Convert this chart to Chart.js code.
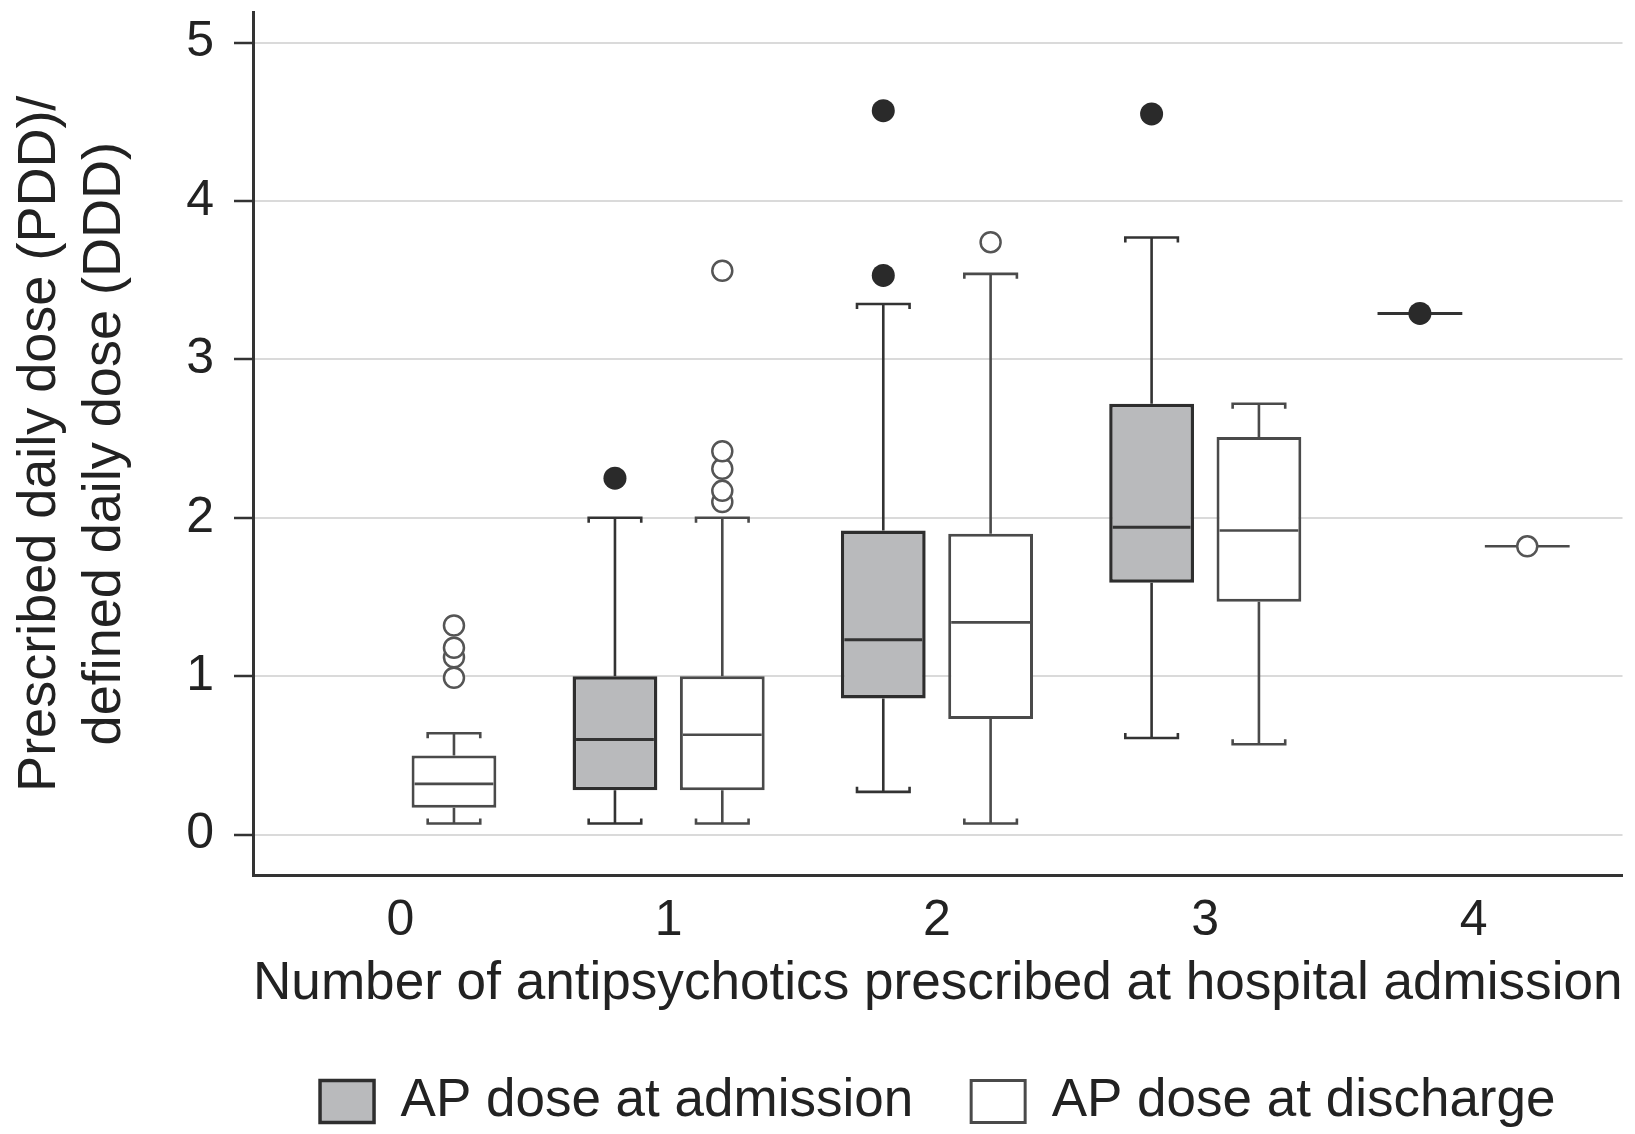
<!DOCTYPE html>
<html>
<head>
<meta charset="utf-8">
<title>AP dose by number of antipsychotics</title>
<script src="https://cdn.jsdelivr.net/npm/chart.js@4.4.1/dist/chart.umd.min.js"></script>
<style>
  html, body { margin: 0; padding: 0; background: #fff; }
  #wrap { width: 1635px; height: 1134px; }
</style>
</head>
<body>
<div id="wrap"><canvas id="doseChart"></canvas></div>
<script>
// number of antipsychotics at admission
const groups = [0, 1, 2, 3, 4];
const yTicks = [0, 1, 2, 3, 4, 5];

// PDD/DDD at admission (no patients on 0 antipsychotics)
const admLow      = [null, 0.07, 0.27, 0.61, 3.29];
const admQ1       = [null, 0.28, 0.86, 1.59, 3.29];
const admMedian   = [null, 0.60, 1.23, 1.94, 3.29];
const admQ3       = [null, 1.00, 1.92, 2.72, 3.29];
const admHigh     = [null, 2.00, 3.35, 3.77, 3.29];
const admOutliers = [[], [2.25], [3.53, 4.57], [4.55], [3.29]];

// PDD/DDD at discharge
const disLow      = [0.07, 0.07, 0.07, 0.57, 1.82];
const disQ1       = [0.17, 0.28, 0.73, 1.47, 1.82];
const disMedian   = [0.32, 0.63, 1.34, 1.92, 1.82];
const disQ3       = [0.50, 1.00, 1.90, 2.51, 1.82];
const disHigh     = [0.64, 2.00, 3.54, 2.72, 1.82];
const disOutliers = [[0.99, 1.12, 1.18, 1.32], [2.10, 2.17, 2.31, 2.42, 3.56], [3.74], [], [1.82]];

const SHIFT = 0.2; // admission box left of the group, discharge box right
const FONT = 'Liberation Sans, Arial, Helvetica, sans-serif';
const TEXT = '#222';

function boxes(q1, q3, side) {
  const out = [];
  groups.forEach((g, i) => {
    if (q1[i] !== null) out.push({ x: g + side * SHIFT, y: [q1[i], q3[i]] });
  });
  return out;
}

function stats(low, q1, med, q3, high) {
  const out = [];
  groups.forEach((g, i) => {
    if (q1[i] !== null) out.push({ low: low[i], q1: q1[i], med: med[i], q3: q3[i], high: high[i] });
  });
  return out;
}

function points(list, side) {
  const out = [];
  groups.forEach((g, i) => list[i].forEach(v => out.push({ x: g + side * SHIFT, y: v })));
  return out;
}

function whisker(ctx, x, from, to, half, hook) {
  ctx.beginPath();
  ctx.moveTo(x, from);
  ctx.lineTo(x, to);
  ctx.moveTo(x - half, to + hook);
  ctx.lineTo(x - half, to);
  ctx.lineTo(x + half, to);
  ctx.lineTo(x + half, to + hook);
  ctx.stroke();
}

// whiskers and median lines on top of each floating bar
const boxPlotLines = {
  id: 'boxPlotLines',
  afterDatasetDraw(chart, args) {
    const ds = chart.data.datasets[args.index];
    if (!ds.stats) return;
    const y = chart.scales.y;
    const ctx = chart.ctx;
    ctx.save();
    ctx.strokeStyle = ds.lineColor;
    args.meta.data.forEach((bar, i) => {
      const s = ds.stats[i];
      const { x, width } = bar.getProps(['x', 'width'], true);
      const half = width * 0.31;
      ctx.lineWidth = 2.6;
      if (s.high > s.q3) whisker(ctx, x, y.getPixelForValue(s.q3), y.getPixelForValue(s.high), half, 5);
      if (s.low < s.q1) whisker(ctx, x, y.getPixelForValue(s.q1), y.getPixelForValue(s.low), half, -5);
      const inset = s.q3 > s.q1 ? ds.borderWidth : 0;
      const ym = y.getPixelForValue(s.med);
      ctx.lineWidth = ds.medianWidth;
      ctx.beginPath();
      ctx.moveTo(x - width / 2 + inset, ym);
      ctx.lineTo(x + width / 2 - inset, ym);
      ctx.stroke();
    });
    ctx.restore();
  }
};

new Chart(document.getElementById('doseChart'), {
  type: 'bar',
  data: {
    datasets: [
      {
        label: 'AP dose at admission',
        data: boxes(admQ1, admQ3, -1),
        stats: stats(admLow, admQ1, admMedian, admQ3, admHigh),
        backgroundColor: '#b9babc',
        borderColor: '#2e2e2e',
        lineColor: '#333',
        borderWidth: 3.5,
        medianWidth: 3,
        borderSkipped: false,
        barPercentage: 0.79,
        categoryPercentage: 1,
        grouped: false,
        order: 1
      },
      {
        label: 'AP dose at discharge',
        data: boxes(disQ1, disQ3, 1),
        stats: stats(disLow, disQ1, disMedian, disQ3, disHigh),
        backgroundColor: '#ffffff',
        borderColor: '#4a4a4a',
        lineColor: '#4a4a4a',
        borderWidth: 3,
        medianWidth: 2.6,
        borderSkipped: false,
        barPercentage: 0.79,
        categoryPercentage: 1,
        grouped: false,
        order: 1
      },
      {
        type: 'scatter',
        label: 'admission outliers',
        data: points(admOutliers, -1),
        pointRadius: 11.5,
        backgroundColor: '#2a2a2a',
        borderWidth: 0,
        order: 0
      },
      {
        type: 'scatter',
        label: 'discharge outliers',
        data: points(disOutliers, 1),
        pointRadius: 10,
        backgroundColor: '#ffffff',
        borderColor: '#555',
        borderWidth: 2.5,
        order: 0
      }
    ]
  },
  options: {
    responsive: true,
    maintainAspectRatio: false,
    animation: false,
    events: [],
    layout: { padding: { top: 12, right: 11, bottom: -4, left: 0 } },
    scales: {
      x: {
        type: 'linear',
        position: 'bottom',
        min: -0.549,
        max: 4.555,
        offset: false,
        afterBuildTicks: s => { s.ticks = groups.map(v => ({ value: v })); },
        afterFit: s => { s.height = 142; s.paddingLeft = 0; s.paddingRight = 0; },
        grid: { display: false, drawTicks: false },
        border: { display: true, color: '#333', width: 3 },
        ticks: { font: { family: FONT, size: 50 }, color: TEXT, padding: 16 },
        title: {
          display: true,
          text: 'Number of antipsychotics prescribed at hospital admission',
          font: { family: FONT, size: 54 },
          color: TEXT,
          padding: { top: 0, bottom: 0 }
        }
      },
      y: {
        min: -0.255,
        max: 5.19,
        afterBuildTicks: s => { s.ticks = yTicks.map(v => ({ value: v })); },
        afterFit: s => { s.width = 253; s.paddingTop = 0; s.paddingBottom = 0; },
        grid: { color: '#dadada', lineWidth: 2, tickLength: 19, tickColor: '#333', tickWidth: 2.5 },
        border: { display: true, color: '#333', width: 3 },
        ticks: { font: { family: FONT, size: 50 }, color: TEXT, padding: 20 },
        title: {
          display: true,
          text: ['Prescribed daily dose (PDD)/', 'defined daily dose (DDD)'],
          font: { family: FONT, size: 54 },
          color: TEXT,
          padding: { top: 7.6, bottom: 0 }
        }
      }
    },
    plugins: {
      tooltip: { enabled: false },
      legend: {
        position: 'bottom',
        fullSize: false,
        labels: {
          filter: item => item.datasetIndex < 2,
          font: { family: FONT, size: 53 },
          color: TEXT,
          boxWidth: 54,
          boxHeight: 42,
          padding: 58
        }
      }
    }
  },
  plugins: [boxPlotLines]
});
</script>
</body>
</html>
